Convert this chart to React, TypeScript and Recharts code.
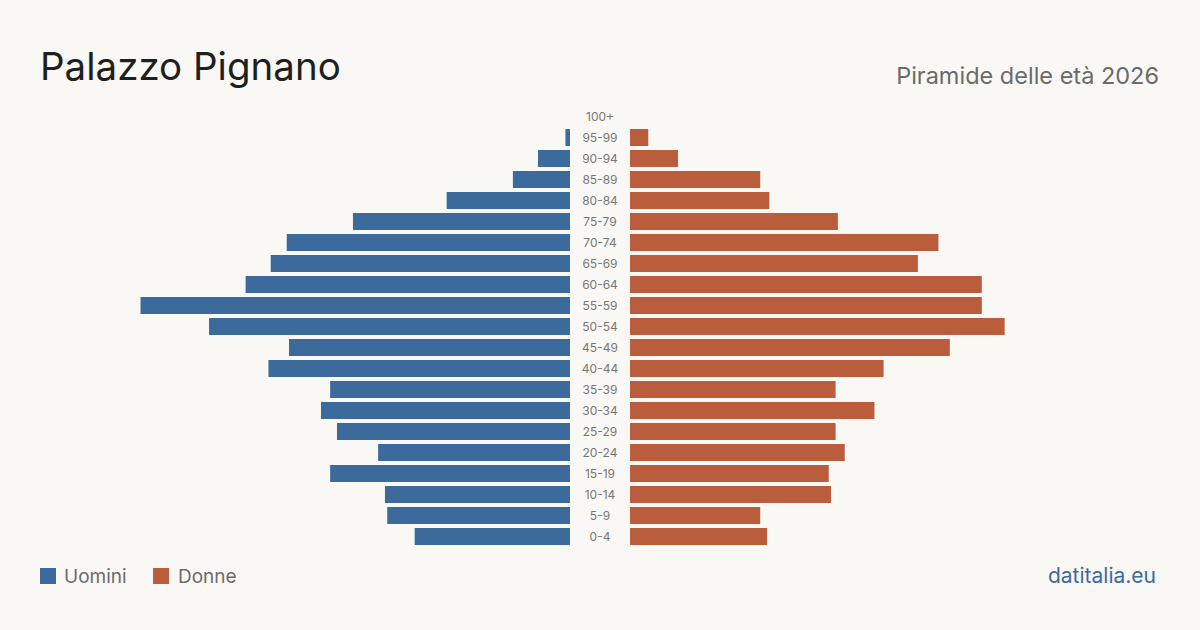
import { Bar, BarChart, XAxis, YAxis } from "recharts";

// Age bands, top of the pyramid first (Recharts draws the first category at the top).
const AGE_BANDS = [
  "100+", "95-99", "90-94", "85-89", "80-84", "75-79", "70-74", "65-69", "60-64", "55-59",
  "50-54", "45-49", "40-44", "35-39", "30-34", "25-29", "20-24", "15-19", "10-14", "5-9", "0-4",
];

// Residents per band.
const MEN = [0, 2, 14, 25, 54, 95, 124, 131, 142, 188, 158, 123, 132, 105, 109, 102, 84, 105, 81, 80, 68];
const WOMEN = [0, 8, 21, 57, 61, 91, 135, 126, 154, 154, 164, 140, 111, 90, 107, 90, 94, 87, 88, 57, 60];

const MAX_VALUE = 232;

const BLUE = "#3c6b9b";
const RUST = "#b95d3d";
const BG = "#f9f8f4";
const FONT = "Inter, 'Noto Sans', sans-serif";

const rows = AGE_BANDS.map((age, i) => ({ age, men: MEN[i], women: WOMEN[i] }));

const CHART_TOP = 106;
const CHART_BOTTOM = 83;

function AgeTick({ y, payload }: { y?: number; payload?: { value: string } }) {
  return (
    <text
      x={30}
      y={y}
      dy={4}
      textAnchor="middle"
      fontSize={12}
      fill="#777"
      fontFamily={FONT}
    >
      {payload?.value}
    </text>
  );
}

export default function App() {
  return (
    <div
      style={{
        position: "absolute",
        left: 0,
        top: 0,
        width: 1200,
        height: 630,
        background: BG,
        overflow: "hidden",
      }}
    >
      <svg width={1200} height={630} style={{ position: "absolute", left: 0, top: 0 }}>
        <text x={40} y={80} fontSize={38.5} fill="#1f1f1f" fontFamily={FONT}>
          Palazzo Pignano
        </text>
        <text x={1159} y={84} fontSize={23.5} fill="#6b6b6b" textAnchor="end" fontFamily={FONT}>
          Piramide delle età 2026
        </text>

        <rect x={40} y={568} width={16} height={16} fill={BLUE} />
        <text x={64} y={583} fontSize={19} fill="#6b6b6b" fontFamily={FONT}>
          Uomini
        </text>
        <rect x={153} y={568} width={16} height={16} fill={RUST} />
        <text x={178} y={583} fontSize={19} fill="#6b6b6b" fontFamily={FONT}>
          Donne
        </text>

        <text x={1156} y={583} fontSize={21} fill={BLUE} textAnchor="end" fontFamily={FONT}>
          datitalia.eu
        </text>
      </svg>

      {/* men: grows leftwards from the centre column */}
      <div style={{ position: "absolute", left: 0, top: 0 }}>
        <BarChart
          width={570}
          height={630}
          data={rows}
          layout="vertical"
          margin={{ top: CHART_TOP, bottom: CHART_BOTTOM, left: 40, right: 0 }}
        >
          <XAxis type="number" domain={[0, MAX_VALUE]} reversed hide />
          <YAxis type="category" dataKey="age" hide />
          <Bar dataKey="men" fill={BLUE} barSize={17} isAnimationActive={false} />
        </BarChart>
      </div>

      {/* women + age labels in the 60px gap */}
      <div style={{ position: "absolute", left: 570, top: 0 }}>
        <BarChart
          width={630}
          height={630}
          data={rows}
          layout="vertical"
          margin={{ top: CHART_TOP, bottom: CHART_BOTTOM, left: 0, right: 40 }}
        >
          <XAxis type="number" domain={[0, MAX_VALUE]} hide />
          <YAxis
            type="category"
            dataKey="age"
            width={60}
            axisLine={false}
            tickLine={false}
            interval={0}
            tick={<AgeTick />}
          />
          <Bar dataKey="women" fill={RUST} barSize={17} isAnimationActive={false} />
        </BarChart>
      </div>
    </div>
  );
}
